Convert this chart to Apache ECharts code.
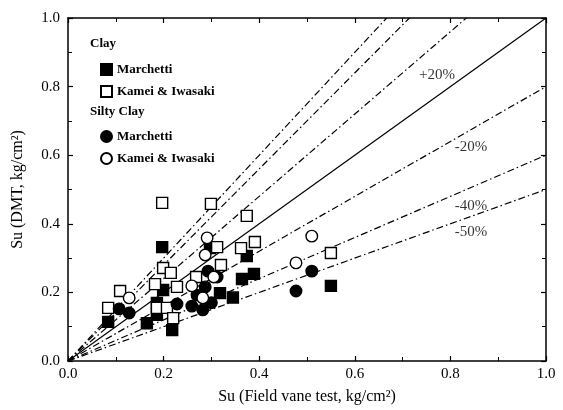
<!DOCTYPE html>
<html><head><meta charset="utf-8">
<script src="https://cdn.jsdelivr.net/npm/echarts@6/dist/echarts.min.js"></script>
<style>html,body{margin:0;padding:0;background:#fff}#c{width:563px;height:410px}</style>
</head><body><div id="c"></div>
<script>
// Data (x = Su field vane, y = Su DMT), kg/cm2
var clayMarchetti = [[0.197,0.332],[0.084,0.114],[0.374,0.306],[0.389,0.254],[0.364,0.239],[0.550,0.219],[0.318,0.198],[0.186,0.135],[0.218,0.090],[0.297,0.329],[0.199,0.207],[0.186,0.169],[0.345,0.185],[0.165,0.110]];
var clayKamei = [[0.197,0.461],[0.299,0.458],[0.374,0.423],[0.312,0.332],[0.362,0.329],[0.391,0.347],[0.550,0.315],[0.199,0.271],[0.215,0.257],[0.320,0.280],[0.268,0.245],[0.109,0.204],[0.182,0.224],[0.228,0.216],[0.084,0.155],[0.186,0.155],[0.207,0.155],[0.220,0.125]];
var siltyMarchetti = [[0.293,0.262],[0.312,0.245],[0.510,0.262],[0.477,0.204],[0.287,0.216],[0.107,0.152],[0.128,0.140],[0.228,0.166],[0.259,0.160],[0.282,0.149],[0.270,0.192],[0.300,0.170]];
var siltyKamei = [[0.291,0.359],[0.287,0.309],[0.510,0.364],[0.477,0.286],[0.128,0.184],[0.259,0.219],[0.282,0.184],[0.305,0.245]];
var refSlopes = [1.5, 1.4, 1.2, 1.0, 0.8, 0.6, 0.5];
var refLabels = ['+20%', '-20%', '-40%', '-50%'];
var refLabelPos = [[0.772,0.834],[0.843,0.624],[0.843,0.452],[0.843,0.376]];
var xTicks = [0, 0.2, 0.4, 0.6, 0.8, 1.0];
var yTicks = [0, 0.2, 0.4, 0.6, 0.8, 1.0];

var FONT = '"Liberation Serif", "DejaVu Serif", serif';
var chart = echarts.init(document.getElementById('c'), null, {renderer: 'canvas'});

function lineFor(s) {
  return [[0, 0], [Math.min(1, 1 / s), Math.min(1, s)]];
}
var series = [];
refSlopes.forEach(function (s) {
  series.push({
    type: 'line', data: lineFor(s), symbol: 'none', silent: true, z: 1,
    lineStyle: {color: '#000', width: 1.2, type: s === 1 ? 'solid' : [7, 3, 1.5, 3]}
  });
});
series.push({
  type: 'scatter', data: refLabelPos.map(function (p, i) { return {value: p, name: refLabels[i]}; }),
  symbolSize: 0, silent: true,
  label: {show: true, position: 'inside', formatter: '{b}', color: '#000', fontFamily: FONT, fontSize: 15}
});
function pts(name, data, symbol, filled) {
  return {
    name: name, type: 'scatter', data: data, symbol: symbol, symbolSize: symbol === 'rect' ? 11 : 11.5, z: 5,
    itemStyle: {color: filled ? '#000' : '#fff', borderColor: '#000', borderWidth: 1.4, opacity: 1}
  };
}
series.push(pts('Clay Marchetti', clayMarchetti, 'rect', true));
series.push(pts('Clay Kamei & Iwasaki', clayKamei, 'rect', false));
series.push(pts('Silty Marchetti', siltyMarchetti, 'circle', true));
series.push(pts('Silty Kamei & Iwasaki', siltyKamei, 'circle', false));

var legendText = {fontFamily: FONT, fontSize: 13, fontWeight: 'bold', color: '#000'};
function fmt(n) { return n.replace(/^(Clay|Silty) /, ''); }

var axisCommon = {
  min: 0, max: 1, interval: 0.2,
  axisLine: {show: true, onZero: false, lineStyle: {color: '#000', width: 1.5}},
  axisTick: {show: true, inside: true, length: 5, lineStyle: {color: '#000', width: 1.2}},
  minorTick: {show: true, splitNumber: 2, length: 4, lineStyle: {color: '#000', width: 1}},
  splitLine: {show: false}
};

chart.setOption({
  animation: false,
  backgroundColor: '#fff',
  grid: {left: 68, right: 17, top: 18, bottom: 49, containLabel: false},
  xAxis: [
    Object.assign({}, axisCommon, {
      type: 'value', position: 'bottom',
      name: 'Su (Field vane test, kg/cm²)', nameLocation: 'middle', nameGap: 28,
      nameTextStyle: {fontFamily: FONT, fontSize: 16, color: '#000'},
      axisLabel: {fontFamily: FONT, fontSize: 15, color: '#000', margin: 6,
        formatter: function (v) { return xTicks.indexOf(+v.toFixed(1)) >= 0 ? v.toFixed(1) : ''; }}
    }),
    Object.assign({}, axisCommon, {type: 'value', position: 'top', axisLabel: {show: false}})
  ],
  yAxis: [
    Object.assign({}, axisCommon, {
      type: 'value', position: 'left',
      name: 'Su (DMT, kg/cm²)', nameLocation: 'middle', nameGap: 42, nameRotate: 90,
      nameTextStyle: {fontFamily: FONT, fontSize: 16, color: '#000'},
      axisLabel: {fontFamily: FONT, fontSize: 15, color: '#000', margin: 8,
        formatter: function (v) { return yTicks.indexOf(+v.toFixed(1)) >= 0 ? v.toFixed(1) : ''; }}
    }),
    Object.assign({}, axisCommon, {type: 'value', position: 'right', axisLabel: {show: false}})
  ],
  legend: [
    {data: ['Clay Marchetti', 'Clay Kamei & Iwasaki'], orient: 'vertical', left: 95, top: 58,
     itemWidth: 11, itemHeight: 11, itemGap: 9, textStyle: legendText, formatter: fmt, selectedMode: false},
    {data: ['Silty Marchetti', 'Silty Kamei & Iwasaki'], orient: 'vertical', left: 95, top: 125,
     itemWidth: 11, itemHeight: 11, itemGap: 9, textStyle: legendText, formatter: fmt, selectedMode: false}
  ],
  graphic: [
    {type: 'text', left: 90, top: 37, style: {text: 'Clay', font: 'bold 13px ' + FONT, fill: '#000'}},
    {type: 'text', left: 90, top: 105, style: {text: 'Silty Clay', font: 'bold 13px ' + FONT, fill: '#000'}}
  ],
  series: series
});
</script></body></html>
